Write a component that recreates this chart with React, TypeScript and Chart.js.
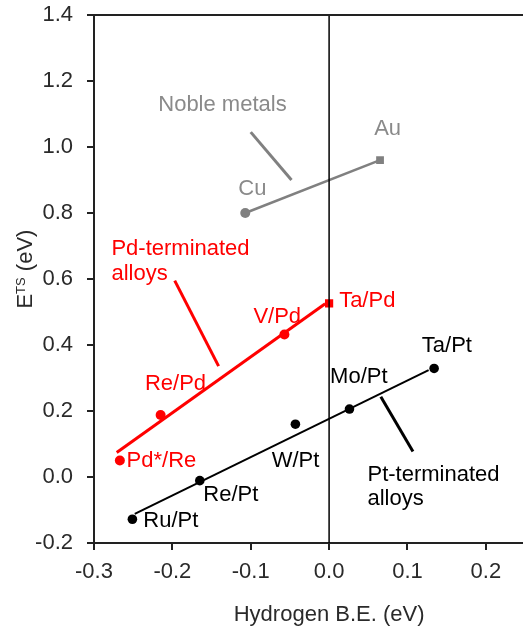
import React, { useEffect, useRef } from 'react';
import { Chart, registerables } from 'chart.js';

Chart.register(...registerables);

const FONT = '"Liberation Sans", Arial, sans-serif';

// Axis ticks
const xTicks = [-0.3, -0.2, -0.1, 0.0, 0.1, 0.2];
const yTicks = [-0.2, 0.0, 0.2, 0.4, 0.6, 0.8, 1.0, 1.2, 1.4];

// Noble metals (Cu, Au)
const nobleX = [-0.107, 0.065];
const nobleY = [0.80, 0.96];

// Pd-terminated alloys (Pd*/Re, Re/Pd, V/Pd, Ta/Pd)
const pdX = [-0.267, -0.215, -0.057];
const pdY = [0.05, 0.188, 0.432];
const taPdX = [0.0];
const taPdY = [0.526];
const pdFitX = [-0.271, -0.005];
const pdFitY = [0.074, 0.525];

// Pt-terminated alloys (Ru/Pt, Re/Pt, W/Pt, Mo/Pt, Ta/Pt)
const ptX = [-0.251, -0.165, -0.043, 0.026, 0.134];
const ptY = [-0.128, -0.011, 0.160, 0.206, 0.329];
const ptFitX = [-0.248, 0.127];
const ptFitY = [-0.112, 0.324];

// Pointer lines
const grayArrowX = [-0.100, -0.048];
const grayArrowY = [1.045, 0.900];
const redArrowX = [-0.197, -0.141];
const redArrowY = [0.595, 0.336];
const blackArrowX = [0.066, 0.107];
const blackArrowY = [0.243, 0.077];

// Zero reference line
const zeroLineX = [0, 0];
const zeroLineY = [-0.2, 1.4];

// Text labels (left edge x, baseline y in data units)
const labelTexts = ['Noble metals', 'Cu', 'Au', 'Pd-terminated', 'alloys', 'V/Pd', 'Ta/Pd', 'Re/Pd', 'Pd*/Re',
  'Ta/Pt', 'Mo/Pt', 'W/Pt', 'Re/Pt', 'Ru/Pt', 'Pt-terminated', 'alloys'];
const labelX = [-0.218, -0.1158, 0.0575, -0.2778, -0.2778, -0.0966, 0.0128, -0.235, -0.2584,
  0.1183, 0.0013, -0.0732, -0.1605, -0.237, 0.049, 0.049];
const labelY = [1.109, 0.8545, 1.0364, 0.6727, 0.597, 0.4657, 0.515, 0.2636, 0.0313,
  0.3797, 0.284, 0.0294, -0.0718, -0.1505, -0.0112, -0.0848];
const labelGroup = ['gray', 'gray', 'gray', 'red', 'red', 'red', 'red', 'red', 'red',
  'black', 'black', 'black', 'black', 'black', 'black', 'black'];

const GRAY_LINE = '#808080';
const GRAY_TEXT = '#8a8a8a';
const RED = '#ff0000';
const BLACK = '#000000';
const AXIS = '#222222';
const TEXT = '#2a2a2a';

const pts = (xs: number[], ys: number[]) => xs.map((x, i) => ({ x, y: ys[i] }));

const overlayPlugin = {
  id: 'overlay',
  afterDatasetsDraw(chart: any) {
    const { ctx, chartArea, scales } = chart;
    const xs = scales.x;
    const ys = scales.y;
    ctx.save();
    // top border
    ctx.strokeStyle = AXIS;
    ctx.lineWidth = 2;
    ctx.beginPath();
    ctx.moveTo(chartArea.left - 1, chartArea.top);
    ctx.lineTo(chartArea.right, chartArea.top);
    ctx.stroke();

    // labels
    ctx.font = `22px ${FONT}`;
    ctx.textAlign = 'left';
    ctx.textBaseline = 'alphabetic';
    labelTexts.forEach((t, i) => {
      const g = labelGroup[i];
      ctx.fillStyle = g === 'gray' ? GRAY_TEXT : g === 'red' ? RED : BLACK;
      ctx.fillText(t, xs.getPixelForValue(labelX[i]), ys.getPixelForValue(labelY[i]));
    });

    // y-axis title with superscript
    ctx.fillStyle = TEXT;
    const big = `22px ${FONT}`;
    const small = `13px ${FONT}`;
    ctx.font = big;
    const wE = ctx.measureText('E').width;
    const wRest = ctx.measureText(' (eV)').width;
    ctx.font = small;
    const wTS = ctx.measureText('TS').width;
    const total = wE + wTS + wRest;
    const cy = ys.getPixelForValue(0.63);
    ctx.translate(31.5, cy + total / 2);
    ctx.rotate(-Math.PI / 2);
    ctx.font = big;
    ctx.fillText('E', 0, 0);
    ctx.font = small;
    ctx.fillText('TS', wE, -6.5);
    ctx.font = big;
    ctx.fillText(' (eV)', wE + wTS, 0);
    ctx.restore();
  },
};

export default function App() {
  const ref = useRef<HTMLCanvasElement | null>(null);

  useEffect(() => {
    if (!ref.current) return;
    Chart.defaults.font.family = FONT;
    const lineDs = (data: any[], color: string, width: number) => ({
      type: 'line' as const,
      data,
      borderColor: color,
      backgroundColor: color,
      borderWidth: width,
      pointRadius: 0,
      pointHoverRadius: 0,
      showLine: true,
      fill: false,
      tension: 0,
    });
    const pointDs = (data: any[], color: string, r: number, style: string) => ({
      type: 'scatter' as const,
      data,
      borderColor: color,
      backgroundColor: color,
      pointRadius: r,
      pointBorderWidth: 0,
      pointStyle: style,
      showLine: false,
    });

    const chart = new Chart(ref.current, {
      type: 'scatter',
      data: {
        datasets: [
          lineDs(pts(zeroLineX, zeroLineY), BLACK, 1.5),
          lineDs(pts(nobleX, nobleY), GRAY_LINE, 2.5),
          lineDs(pts(pdFitX, pdFitY), RED, 3),
          lineDs(pts(ptFitX, ptFitY), BLACK, 2),
          lineDs(pts(grayArrowX, grayArrowY), GRAY_LINE, 3),
          lineDs(pts(redArrowX, redArrowY), RED, 3),
          lineDs(pts(blackArrowX, blackArrowY), BLACK, 3),
          pointDs(pts(nobleX.slice(0, 1), nobleY.slice(0, 1)), GRAY_LINE, 5, 'circle'),
          pointDs(pts(nobleX.slice(1), nobleY.slice(1)), GRAY_LINE, 5.5, 'rect'),
          pointDs(pts(pdX, pdY), RED, 5, 'circle'),
          pointDs(pts(taPdX, taPdY), RED, 5.8, 'rect'),
          pointDs(pts(ptX, ptY), BLACK, 4.8, 'circle'),
        ] as any,
      },
      options: {
        animation: false,
        responsive: false,
        devicePixelRatio: 1,
        layout: { padding: { top: 15, left: 0, right: 0, bottom: 0 } },
        plugins: {
          legend: { display: false },
          tooltip: { enabled: false },
        },
        events: [],
        scales: {
          x: {
            type: 'linear',
            min: -0.3,
            max: 0.3,
            afterBuildTicks: (s: any) => { s.ticks = xTicks.map((v) => ({ value: v })); },
            afterFit: (s: any) => { s.height = 85; s.paddingLeft = 0; s.paddingRight = 0; },
            ticks: {
              color: TEXT,
              font: { size: 22, family: FONT },
              padding: 9,
              maxRotation: 0,
              autoSkip: false,
              callback: (v: any) => Number(v).toFixed(1),
            },
            grid: { drawOnChartArea: false, drawTicks: true, tickLength: 7, color: AXIS, lineWidth: 2 },
            border: { display: true, color: AXIS, width: 2 },
            title: {
              display: true,
              text: 'Hydrogen B.E. (eV)',
              color: TEXT,
              font: { size: 22, family: FONT },
              padding: { top: 0, bottom: 0 },
            },
          },
          y: {
            type: 'linear',
            min: -0.2,
            max: 1.4,
            afterBuildTicks: (s: any) => { s.ticks = yTicks.map((v) => ({ value: v })); },
            afterFit: (s: any) => { s.width = 94; s.paddingTop = 0; s.paddingBottom = 0; },
            ticks: {
              color: TEXT,
              font: { size: 22, family: FONT },
              padding: 14,
              autoSkip: false,
              callback: (v: any) => Number(v).toFixed(1),
            },
            grid: { drawOnChartArea: false, drawTicks: true, tickLength: 7, color: AXIS, lineWidth: 2 },
            border: { display: true, color: AXIS, width: 2 },
          },
        },
      },
      plugins: [overlayPlugin],
    } as any);
    return () => chart.destroy();
  }, []);

  return (
    <div style={{ position: 'absolute', left: 0, top: 0, width: 523, height: 628, overflow: 'hidden', background: '#fff' }}>
      <canvas ref={ref} width={570} height={628} style={{ width: 570, height: 628, display: 'block' }} />
    </div>
  );
}
